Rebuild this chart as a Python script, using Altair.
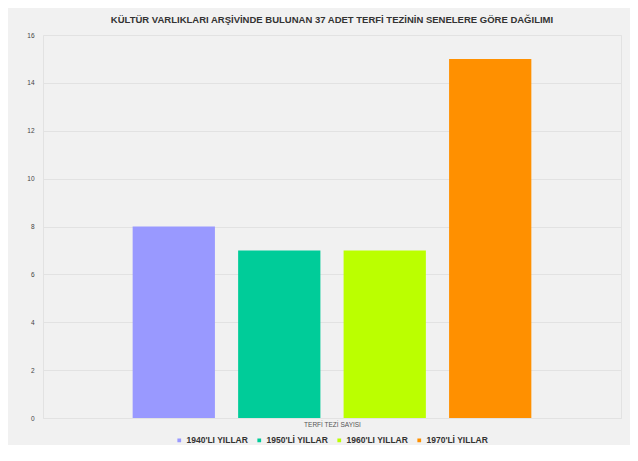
import altair as alt
import pandas as pd

series = ["1940'LI YILLAR", "1950'Lİ YILLAR", "1960'LI YILLAR", "1970'Lİ YILLAR"]
values = [8, 7, 7, 15]
colors = ["#9999FF", "#00CC99", "#BBFF00", "#FF9000"]
y_ticks = [0, 2, 4, 6, 8, 10, 12, 14, 16]

df = pd.DataFrame({"seri": series, "deger": values})

FONT = "Liberation Sans"

chart = alt.Chart(df).mark_bar().encode(
    x=alt.X("seri:N", sort=series,
            scale=alt.Scale(paddingInner=0.22, paddingOuter=0.85),
            axis=alt.Axis(title="TERFİ TEZİ SAYISI", labels=False, ticks=False,
                          domain=True, domainColor="#e2e2e2",
                          titleFont=FONT, titleFontSize=6.5, titleFontWeight="normal",
                          titleColor="#555555", titlePadding=3)),
    y=alt.Y("deger:Q", scale=alt.Scale(domain=[0, 16], nice=False),
            axis=alt.Axis(title=None, values=y_ticks, ticks=False, domain=False,
                          labelFont=FONT, labelFontSize=6.5, labelColor="#444444",
                          labelPadding=9, gridColor="#e2e2e2", gridWidth=1)),
    color=alt.Color("seri:N", sort=series,
                    scale=alt.Scale(domain=series, range=colors),
                    legend=alt.Legend(title=None, orient="none", direction="horizontal",
                                      legendX=132, legendY=401,
                                      symbolType="square", symbolSize=14,
                                      symbolStrokeWidth=0, symbolOffset=0,
                                      labelOffset=3,
                                      labelFont=FONT, labelFontSize=8.5, labelFontWeight="bold",
                                      labelColor="#333333", columnPadding=6,
                                      padding=0)),
).properties(
    width=622,
    height=437,
    autosize=alt.AutoSizeParams(type="fit", contains="padding"),
    padding={"left": 18, "right": 9, "top": 6, "bottom": 17},
    background="#f1f1f1",
    title=alt.TitleParams(
        "KÜLTÜR VARLIKLARI ARŞİVİNDE BULUNAN 37 ADET TERFİ TEZİNİN SENELERE GÖRE DAĞILIMI",
        font=FONT, fontSize=9.5, fontWeight="bold", color="#333333",
        anchor="middle", offset=8),
).configure_view(stroke="#e2e2e2", fill="#f1f1f1")

chart.save("out.html", embed_options={"renderer": "svg", "actions": False})
